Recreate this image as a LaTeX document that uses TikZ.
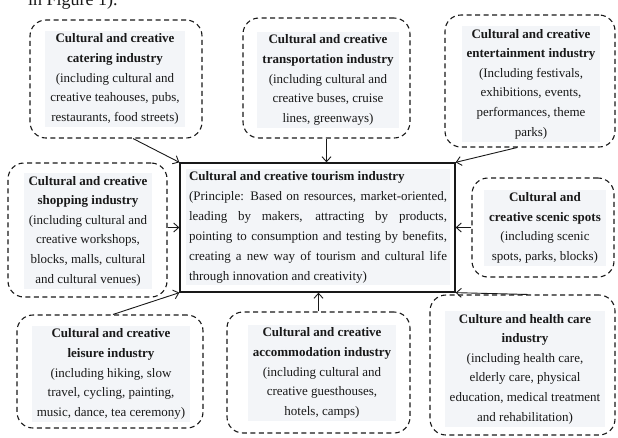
\documentclass[tikz,border=0pt]{standalone}
\usepackage{fontspec}
\setmainfont{Liberation Serif}
\usetikzlibrary{arrows.meta}
\definecolor{txtbg}{RGB}{243,245,248}
\definecolor{ink}{RGB}{25,25,25}
\begin{document}
\begin{tikzpicture}[x=1pt,y=-1pt,
  dbox/.style={draw=ink, dash pattern=on 5pt off 3.5pt, line width=1.1pt, rounded corners=16pt, inner sep=0pt},
  txt/.style={fill=txtbg, text=ink, align=center, font=\fontsize{13}{19.6}\selectfont, inner xsep=5pt, inner ysep=3pt},
  ctrbox/.style={draw=ink, line width=1.3pt, inner sep=0pt},
  conn/.style={draw=ink, line width=0.9pt, -{Straight Barb[length=5pt,width=9pt,line width=0.9pt]}}
]
\clip (0,0) rectangle (618,437);
\fill[white] (0,0) rectangle (618,437);
% cropped caption text at top
\node[anchor=base west, inner sep=0pt, font=\fontsize{18}{20}\selectfont, text=ink] (fig) at (28,5) {in Figure 1).};
% central box
\node[ctrbox, minimum width=275pt, minimum height=129pt] (ctr) at (317.5,227.5) {};
\node[txt, inner xsep=3pt, inner ysep=2pt] (ctrt) at (318,227) {\parbox{258pt}{\raggedright\fontsize{13}{20}\selectfont
\textbf{Cultural and creative tourism industry}\\
\makebox[\linewidth][s]{(Principle: Based on resources, market-oriented,}\\
\makebox[\linewidth][s]{leading by makers, attracting by products,}\\
\makebox[\linewidth][s]{pointing to consumption and testing by benefits,}\\
\makebox[\linewidth][s]{creating a new way of tourism and cultural life}\\
through innovation and creativity)}};
% surrounding dashed boxes
\node[dbox, minimum width=172pt, minimum height=118pt] (cat) at (116,79) {};
\node[txt] (catt) at (115,79) {\textbf{Cultural and creative}\\\textbf{catering industry}\\(including cultural and\\creative teahouses, pubs,\\restaurants, food streets)};
\node[dbox, minimum width=167pt, minimum height=120pt] (tra) at (326.5,78) {};
\node[txt] (trat) at (328,80) {\textbf{Cultural and creative}\\\textbf{transportation industry}\\(including cultural and\\creative buses, cruise\\lines, greenways)};
\node[dbox, minimum width=170pt, minimum height=132pt] (ent) at (530,81) {};
\node[txt] (entt) at (531,84) {\textbf{Cultural and creative}\\\textbf{entertainment industry}\\(Including festivals,\\exhibitions, events,\\performances, theme\\parks)};
\node[dbox, minimum width=159pt, minimum height=134pt] (sho) at (87.5,230) {};
\node[txt] (shot) at (88,231) {\textbf{Cultural and creative}\\\textbf{shopping industry}\\(including cultural and\\creative workshops,\\blocks, malls, cultural\\and cultural venues)};
\node[dbox, minimum width=142pt, minimum height=99pt] (sce) at (543,227.5) {};
\node[txt] (scet) at (545,228) {\textbf{Cultural and}\\\textbf{creative scenic spots}\\(including scenic\\spots, parks, blocks)};
\node[dbox, minimum width=186pt, minimum height=113pt] (lei) at (110,371.5) {};
\node[txt] (leit) at (111,374) {\textbf{Cultural and creative}\\\textbf{leisure industry}\\(including hiking, slow\\travel, cycling, painting,\\music, dance, tea ceremony)};
\node[dbox, minimum width=183pt, minimum height=121pt] (acc) at (318.5,372.5) {};
\node[txt] (acct) at (322,373) {\textbf{Cultural and creative}\\\textbf{accommodation industry}\\(including cultural and\\creative guesthouses,\\hotels, camps)};
\node[dbox, minimum width=185pt, minimum height=140pt] (hea) at (522.5,365) {};
\node[txt] (heat) at (525,369) {\textbf{Culture and health care}\\\textbf{industry}\\(including health care,\\elderly care, physical\\education, medical treatment\\and rehabilitation)};
% connectors
\draw[conn] ([xshift=17pt]cat.south) -- (ctr.north west);
\draw[conn] (tra.south) -- (tra.south |- ctr.north);
\draw[conn] ([xshift=-13pt]ent.south) -- (ctr.north east);
\draw[conn] (ctr.west -| sho.east) -- (ctr.west);
\draw[conn] (sce.west) -- (ctr.east);
\draw[conn] ([xshift=3pt]lei.north) -- (ctr.south west);
\draw[conn] (acc.north) -- (acc.north |- ctr.south);
\draw[conn] ([xshift=5pt]hea.north) -- (ctr.south east);
\end{tikzpicture}
\end{document}
